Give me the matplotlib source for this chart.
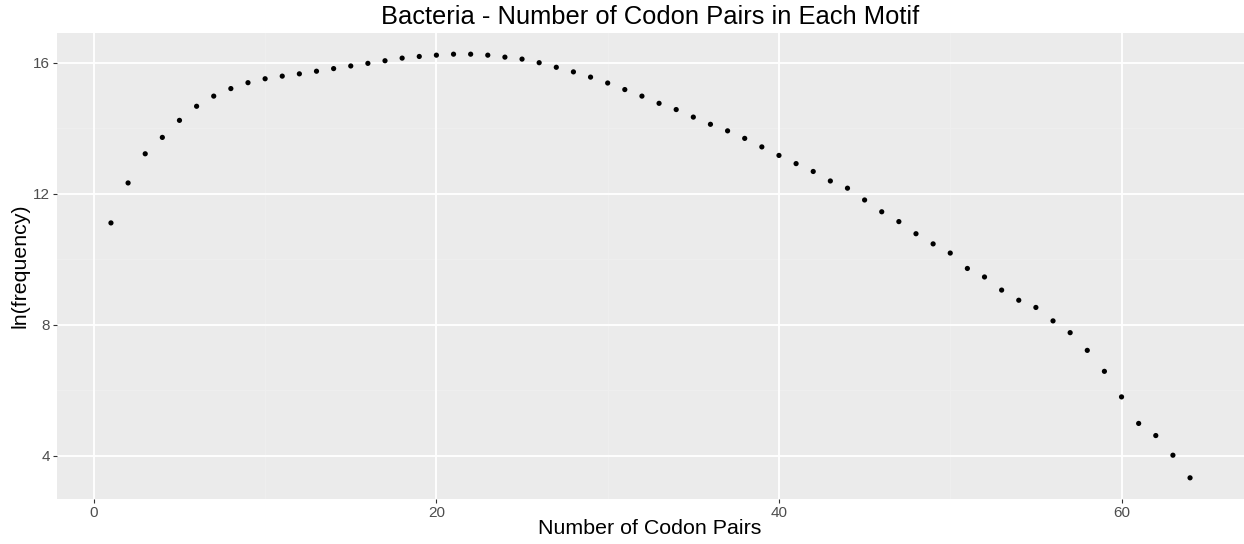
import numpy as np
import matplotlib
matplotlib.use("Agg")
import matplotlib.pyplot as plt

plt.rcParams['font.family'] = ['Liberation Sans', 'DejaVu Sans']

# Number of codon pairs per motif and log frequency
codon_pairs = list(range(1, 65))
ln_frequency = [
    11.11, 12.33, 13.22, 13.72, 14.24, 14.67, 14.98, 15.21, 15.39, 15.51,
    15.59, 15.66, 15.74, 15.82, 15.90, 15.98, 16.06, 16.14, 16.19, 16.23,
    16.26, 16.26, 16.23, 16.17, 16.11, 16.00, 15.86, 15.72, 15.56, 15.38,
    15.18, 14.98, 14.76, 14.57, 14.34, 14.12, 13.92, 13.69, 13.43, 13.17,
    12.92, 12.68, 12.39, 12.17, 11.81, 11.45, 11.15, 10.78, 10.47, 10.19,
    9.72, 9.46, 9.06, 8.75, 8.53, 8.12, 7.76, 7.22, 6.58, 5.80,
    4.99, 4.62, 4.02, 3.33,
]
x_ticks = [0, 20, 40, 60]
y_ticks = [4, 8, 12, 16]
x_minor = [10, 30, 50]
y_minor = [6, 10, 14]

title = "Bacteria - Number of Codon Pairs in Each Motif"
x_label = "Number of Codon Pairs"
y_label = "ln(frequency)"

W, H = 1244, 544
fig = plt.figure(figsize=(W / 100, H / 100), dpi=100)
fig.patch.set_facecolor("white")

left, right, top, bottom = 57, 1244, 33, 499
ax = fig.add_axes([left / W, 1 - bottom / H, (right - left) / W, (bottom - top) / H])
ax.set_facecolor("#EBEBEB")

# ggplot-like 5% expansion of the data range
x = np.array(codon_pairs, dtype=float)
y = np.array(ln_frequency)
xr = x.max() - x.min()
yr = y.max() - y.min()
ax.set_xlim(x.min() - 0.05 * xr, x.max() + 0.05 * xr)
ax.set_ylim(y.min() - 0.05 * yr, y.max() + 0.05 * yr)

for v in x_minor:
    ax.axvline(v, color="#EFEFEF", lw=0.6, zorder=0)
for v in y_minor:
    ax.axhline(v, color="#EFEFEF", lw=0.6, zorder=0)
for v in x_ticks:
    ax.axvline(v, color="white", lw=1.3, zorder=0.5)
for v in y_ticks:
    ax.axhline(v, color="white", lw=1.3, zorder=0.5)

ax.scatter(x, y, s=14, color="black", edgecolors="none", zorder=3)

for s in ax.spines.values():
    s.set_visible(False)

ax.set_xticks(x_ticks)
ax.set_yticks(y_ticks)
ax.tick_params(axis="both", which="major", length=3, width=0.8, color="#333333",
               labelcolor="#4D4D4D", labelsize=11, pad=2)

pw, ph = right - left, bottom - top
ax.set_xlabel(x_label, fontsize=15.4, color="black")
ax.xaxis.label.set_va("center")
ax.xaxis.set_label_coords((650 - left) / pw, (bottom - 528) / ph)

ax.set_ylabel(y_label, fontsize=15.4, color="black")
ax.yaxis.label.set_va("center")
ax.yaxis.set_label_coords((20 - left) / pw, 0.5)

fig.text((left + right) / 2 / W, 1 - 17 / H, title, ha="center", va="center",
         fontsize=18.4, color="black")

fig.savefig("out.png", dpi=100, facecolor="white")
